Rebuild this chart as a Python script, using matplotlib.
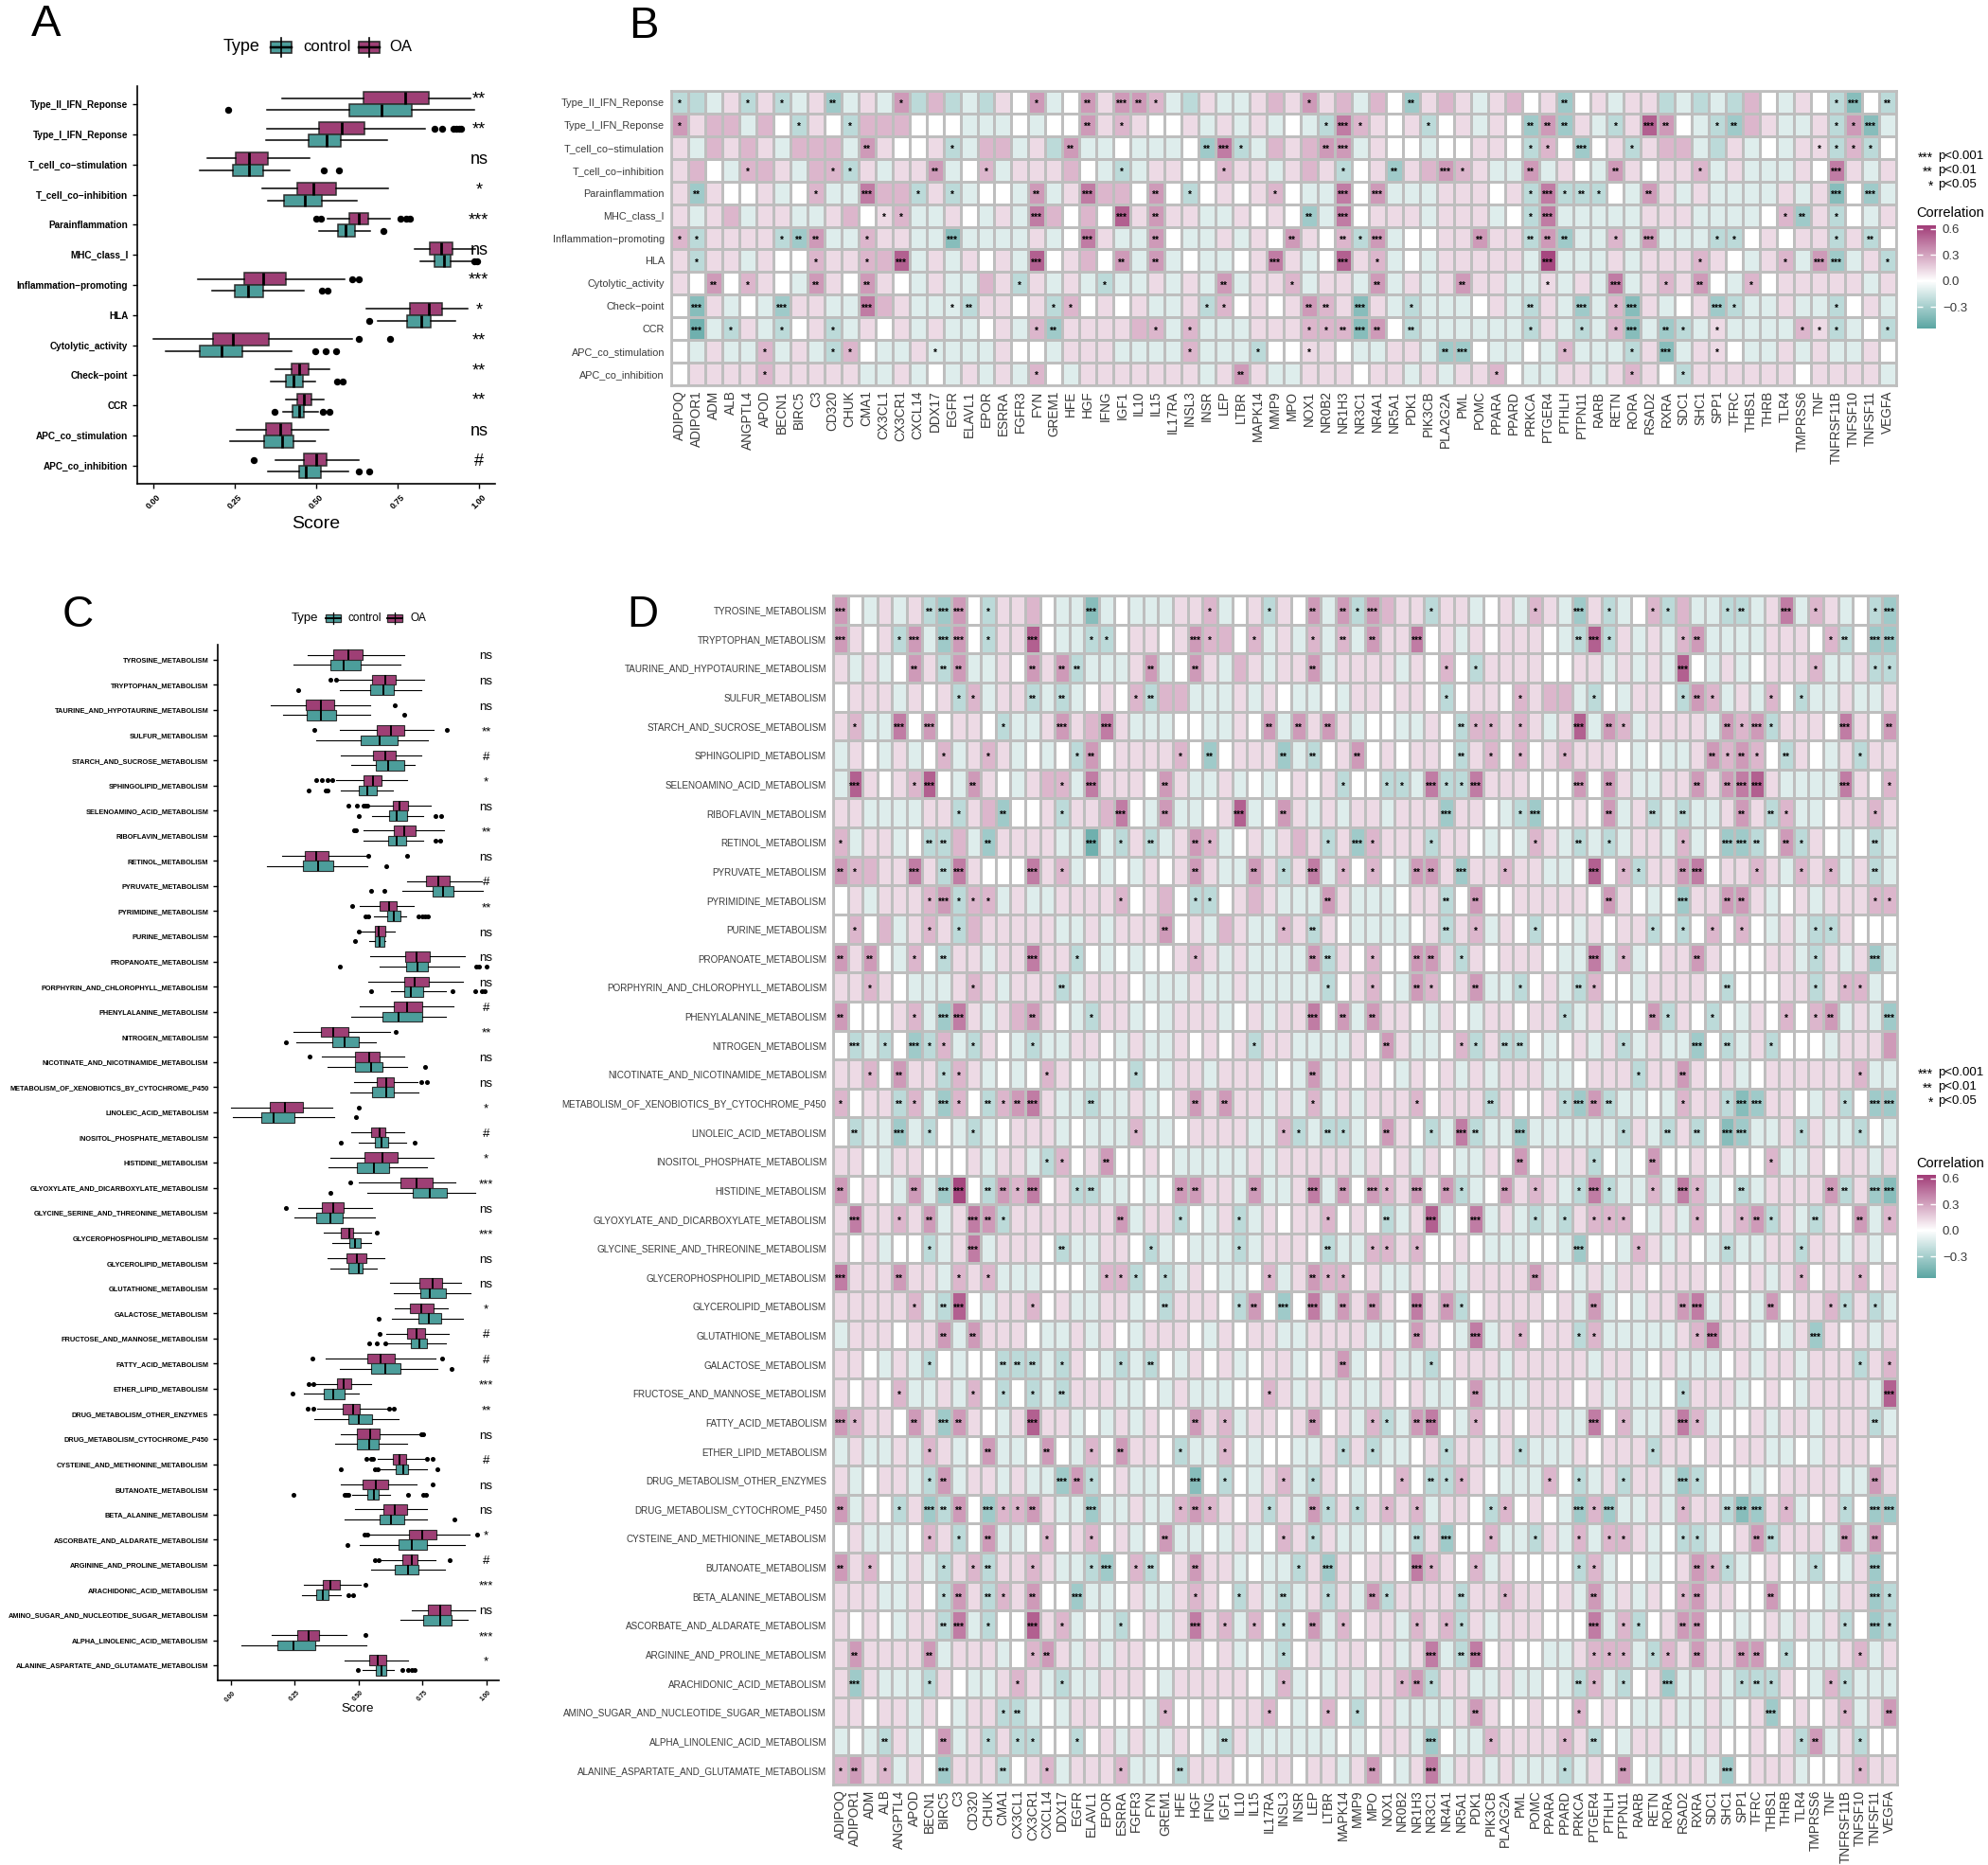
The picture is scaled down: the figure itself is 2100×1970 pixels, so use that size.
import numpy as np
import matplotlib
matplotlib.use("Agg")
import matplotlib.pyplot as plt
from matplotlib.colors import LinearSegmentedColormap, Normalize
from matplotlib.cm import ScalarMappable
from matplotlib.patches import Rectangle
from matplotlib.lines import Line2D

plt.rcParams['font.family'] = ['Liberation Sans', 'DejaVu Sans']

W, H = 2100, 1970
fig = plt.figure(figsize=(W / 100, H / 100), dpi=100)
fig.patch.set_facecolor('white')

# ------------------------------------------------------------------ data A
A_CATS = ["Type_II_IFN_Reponse", "Type_I_IFN_Reponse", "T_cell_co\u2212stimulation",
          "T_cell_co\u2212inhibition", "Parainflammation", "MHC_class_I",
          "Inflammation\u2212promoting", "HLA", "Cytolytic_activity", "Check\u2212point",
          "CCR", "APC_co_stimulation", "APC_co_inhibition"]
# (whisker low, q1, median, q3, whisker high)
A_OA = [(0.395, 0.645, 0.773, 0.845, 0.975), (0.35, 0.508, 0.578, 0.648, 0.835),
        (0.166, 0.254, 0.294, 0.353, 0.48), (0.333, 0.443, 0.492, 0.561, 0.72),
        (0.536, 0.602, 0.63, 0.66, 0.727), (0.802, 0.85, 0.885, 0.92, 0.99),
        (0.137, 0.28, 0.338, 0.406, 0.587), (0.655, 0.788, 0.845, 0.886, 0.965),
        (0.0, 0.182, 0.245, 0.355, 0.61), (0.375, 0.425, 0.448, 0.478, 0.541),
        (0.406, 0.443, 0.462, 0.485, 0.523), (0.257, 0.347, 0.388, 0.425, 0.538),
        (0.375, 0.462, 0.50, 0.533, 0.632)]
A_OA_OUT = [[], [0.865, 0.887, 0.922, 0.93, 0.94, 0.945], [], [], [0.50, 0.515, 0.758, 0.775, 0.787],
            [], [0.61, 0.63], [], [0.63, 0.727], [], [], [], [0.307]]
A_CTRL = [(0.35, 0.602, 0.70, 0.795, 0.985), (0.345, 0.478, 0.533, 0.575, 0.717),
          (0.142, 0.244, 0.293, 0.338, 0.418), (0.352, 0.402, 0.466, 0.518, 0.626),
          (0.508, 0.567, 0.59, 0.618, 0.667), (0.82, 0.863, 0.893, 0.913, 0.98),
          (0.18, 0.25, 0.29, 0.336, 0.462), (0.688, 0.78, 0.822, 0.853, 0.927),
          (0.037, 0.142, 0.21, 0.272, 0.423), (0.361, 0.406, 0.43, 0.46, 0.498),
          (0.398, 0.428, 0.448, 0.463, 0.505), (0.235, 0.341, 0.395, 0.43, 0.498),
          (0.353, 0.448, 0.467, 0.516, 0.598)]
A_CTRL_OUT = [[0.23], [], [0.523, 0.57], [], [0.708], [0.987, 0.995], [0.517, 0.535], [0.663],
              [0.498, 0.528, 0.56], [0.565, 0.582], [0.373, 0.52, 0.54], [], [0.63, 0.663]]
A_SIG = ["**", "**", "ns", "*", "***", "ns", "***", "*", "**", "**", "**", "ns", "#"]

# ------------------------------------------------------------------ data C
C_CATS = ["TYROSINE_METABOLISM", "TRYPTOPHAN_METABOLISM", "TAURINE_AND_HYPOTAURINE_METABOLISM",
          "SULFUR_METABOLISM", "STARCH_AND_SUCROSE_METABOLISM", "SPHINGOLIPID_METABOLISM",
          "SELENOAMINO_ACID_METABOLISM", "RIBOFLAVIN_METABOLISM", "RETINOL_METABOLISM",
          "PYRUVATE_METABOLISM", "PYRIMIDINE_METABOLISM", "PURINE_METABOLISM",
          "PROPANOATE_METABOLISM", "PORPHYRIN_AND_CHLOROPHYLL_METABOLISM",
          "PHENYLALANINE_METABOLISM", "NITROGEN_METABOLISM", "NICOTINATE_AND_NICOTINAMIDE_METABOLISM",
          "METABOLISM_OF_XENOBIOTICS_BY_CYTOCHROME_P450", "LINOLEIC_ACID_METABOLISM",
          "INOSITOL_PHOSPHATE_METABOLISM", "HISTIDINE_METABOLISM",
          "GLYOXYLATE_AND_DICARBOXYLATE_METABOLISM", "GLYCINE_SERINE_AND_THREONINE_METABOLISM",
          "GLYCEROPHOSPHOLIPID_METABOLISM", "GLYCEROLIPID_METABOLISM", "GLUTATHIONE_METABOLISM",
          "GALACTOSE_METABOLISM", "FRUCTOSE_AND_MANNOSE_METABOLISM", "FATTY_ACID_METABOLISM",
          "ETHER_LIPID_METABOLISM", "DRUG_METABOLISM_OTHER_ENZYMES", "DRUG_METABOLISM_CYTOCHROME_P450",
          "CYSTEINE_AND_METHIONINE_METABOLISM", "BUTANOATE_METABOLISM", "BETA_ALANINE_METABOLISM",
          "ASCORBATE_AND_ALDARATE_METABOLISM", "ARGININE_AND_PROLINE_METABOLISM",
          "ARACHIDONIC_ACID_METABOLISM", "AMINO_SUGAR_AND_NUCLEOTIDE_SUGAR_METABOLISM",
          "ALPHA_LINOLENIC_ACID_METABOLISM", "ALANINE_ASPARTATE_AND_GLUTAMATE_METABOLISM"]
C_OA = [(0.301, 0.403, 0.462, 0.515, 0.679), (0.42, 0.554, 0.607, 0.645, 0.758),
        (0.158, 0.295, 0.352, 0.407, 0.545), (0.426, 0.573, 0.626, 0.679, 0.793),
        (0.432, 0.556, 0.605, 0.645, 0.747), (0.413, 0.519, 0.556, 0.589, 0.69),
        (0.547, 0.634, 0.662, 0.696, 0.783), (0.519, 0.64, 0.681, 0.723, 0.837),
        (0.203, 0.29, 0.337, 0.385, 0.528), (0.691, 0.764, 0.812, 0.856, 0.985),
        (0.505, 0.585, 0.62, 0.649, 0.716), (0.51, 0.563, 0.579, 0.605, 0.643),
        (0.547, 0.684, 0.728, 0.781, 0.915), (0.538, 0.679, 0.719, 0.777, 0.908),
        (0.505, 0.639, 0.691, 0.749, 0.872), (0.247, 0.352, 0.401, 0.462, 0.624),
        (0.356, 0.486, 0.541, 0.582, 0.679), (0.483, 0.573, 0.608, 0.639, 0.732),
        (0.0, 0.152, 0.212, 0.282, 0.397), (0.471, 0.55, 0.583, 0.605, 0.681),
        (0.392, 0.524, 0.596, 0.652, 0.793), (0.503, 0.665, 0.728, 0.792, 0.881),
        (0.263, 0.358, 0.401, 0.441, 0.554), (0.365, 0.432, 0.464, 0.481, 0.551),
        (0.381, 0.454, 0.496, 0.531, 0.601), (0.624, 0.739, 0.792, 0.828, 0.902),
        (0.643, 0.70, 0.745, 0.793, 0.851), (0.608, 0.691, 0.726, 0.76, 0.853),
        (0.372, 0.534, 0.588, 0.643, 0.802), (0.337, 0.417, 0.441, 0.471, 0.551),
        (0.339, 0.439, 0.481, 0.506, 0.615), (0.43, 0.496, 0.545, 0.585, 0.739),
        (0.577, 0.636, 0.662, 0.688, 0.758), (0.43, 0.515, 0.57, 0.615, 0.726),
        (0.486, 0.598, 0.643, 0.69, 0.768), (0.541, 0.698, 0.751, 0.805, 0.936),
        (0.585, 0.672, 0.709, 0.732, 0.80), (0.286, 0.36, 0.392, 0.426, 0.509),
        (0.709, 0.774, 0.819, 0.86, 0.959), (0.162, 0.26, 0.305, 0.346, 0.452),
        (0.448, 0.543, 0.575, 0.608, 0.696)]
C_OA_OUT = [[], [0.39, 0.413], [0.643], [0.328, 0.847], [], [0.334, 0.358, 0.381, 0.398],
            [0.46, 0.494, 0.52, 0.528, 0.537], [0.483, 0.492], [0.538, 0.69], [], [0.477], [0.5],
            [], [], [], [0.647], [0.309], [0.745, 0.767], [0.503], [], [], [0.467], [0.217], [0.573],
            [], [], [], [0.585], [0.32, 0.828], [0.305, 0.324], [0.302, 0.324, 0.62, 0.64],
            [0.745, 0.754], [0.531, 0.55, 0.557, 0.77, 0.79], [0.792], [], [0.524, 0.534, 0.966],
            [0.563, 0.579, 0.857], [0.526], [], [0.526], []]
C_CTRL = [(0.247, 0.39, 0.441, 0.511, 0.665), (0.426, 0.545, 0.598, 0.64, 0.745),
          (0.207, 0.298, 0.352, 0.413, 0.545), (0.334, 0.509, 0.585, 0.653, 0.774),
          (0.473, 0.57, 0.617, 0.679, 0.722), (0.432, 0.503, 0.534, 0.573, 0.634),
          (0.554, 0.621, 0.649, 0.691, 0.755), (0.519, 0.617, 0.649, 0.688, 0.755),
          (0.142, 0.282, 0.343, 0.403, 0.534), (0.671, 0.79, 0.83, 0.872, 0.987),
          (0.56, 0.614, 0.64, 0.665, 0.688), (0.541, 0.564, 0.582, 0.601, 0.605),
          (0.582, 0.688, 0.732, 0.773, 0.894), (0.628, 0.679, 0.707, 0.754, 0.841),
          (0.471, 0.594, 0.656, 0.749, 0.841), (0.258, 0.398, 0.445, 0.5, 0.569),
          (0.381, 0.487, 0.55, 0.594, 0.691), (0.468, 0.554, 0.611, 0.639, 0.735),
          (0.008, 0.12, 0.168, 0.25, 0.407), (0.503, 0.566, 0.589, 0.617, 0.688),
          (0.384, 0.496, 0.56, 0.621, 0.767), (0.537, 0.713, 0.779, 0.847, 0.959),
          (0.251, 0.337, 0.39, 0.439, 0.564), (0.398, 0.464, 0.487, 0.509, 0.55),
          (0.39, 0.462, 0.5, 0.518, 0.573), (0.64, 0.742, 0.781, 0.841, 0.939),
          (0.63, 0.736, 0.777, 0.825, 0.908), (0.611, 0.704, 0.739, 0.767, 0.843),
          (0.429, 0.551, 0.607, 0.666, 0.809), (0.288, 0.365, 0.403, 0.445, 0.503),
          (0.327, 0.462, 0.503, 0.554, 0.656), (0.411, 0.494, 0.541, 0.579, 0.691),
          (0.582, 0.647, 0.675, 0.694, 0.77), (0.477, 0.537, 0.56, 0.579, 0.624),
          (0.448, 0.585, 0.626, 0.681, 0.77), (0.505, 0.656, 0.709, 0.768, 0.915),
          (0.55, 0.643, 0.694, 0.735, 0.838), (0.279, 0.334, 0.36, 0.384, 0.43),
          (0.666, 0.754, 0.819, 0.866, 0.927), (0.041, 0.184, 0.245, 0.33, 0.532),
          (0.515, 0.57, 0.592, 0.611, 0.64)]
C_CTRL_OUT = [[], [0.264], [0.679], [], [], [0.305, 0.372, 0.381], [0.503, 0.802, 0.824],
              [0.802, 0.821], [0.608], [0.55, 0.602], [0.526, 0.538, 0.736, 0.75, 0.76, 0.774],
              [0.487], [0.429, 0.962, 0.971, 1.0], [0.55, 0.869, 0.959, 0.985, 0.994], [], [0.218],
              [0.761], [], [0.49], [0.432, 0.719], [], [0.39], [], [], [], [], [0.579],
              [0.541, 0.573, 0.607], [0.866], [0.244], [], [], [0.43, 0.564, 0.575, 0.809],
              [0.247, 0.445, 0.454, 0.462, 0.696, 0.754, 0.764], [0.876], [0.458], [],
              [0.462, 0.48], [], [], [0.499, 0.671, 0.694, 0.709, 0.722]]
C_SIG = ["ns", "ns", "ns", "**", "#", "*", "ns", "**", "ns", "#", "**", "ns", "ns", "ns", "#",
         "**", "ns", "ns", "*", "#", "*", "***", "ns", "***", "ns", "ns", "*", "#", "#", "***",
         "**", "ns", "#", "ns", "ns", "*", "#", "***", "ns", "***", "*"]

# ------------------------------------------------------------------ heatmap data
GENES = ["ADIPOQ", "ADIPOR1", "ADM", "ALB", "ANGPTL4", "APOD", "BECN1", "BIRC5", "C3", "CD320",
         "CHUK", "CMA1", "CX3CL1", "CX3CR1", "CXCL14", "DDX17", "EGFR", "ELAVL1", "EPOR", "ESRRA",
         "FGFR3", "FYN", "GREM1", "HFE", "HGF", "IFNG", "IGF1", "IL10", "IL15", "IL17RA", "INSL3",
         "INSR", "LEP", "LTBR", "MAPK14", "MMP9", "MPO", "NOX1", "NR0B2", "NR1H3", "NR3C1",
         "NR4A1", "NR5A1", "PDK1", "PIK3CB", "PLA2G2A", "PML", "POMC", "PPARA", "PPARD", "PRKCA",
         "PTGER4", "PTHLH", "PTPN11", "RARB", "RETN", "RORA", "RSAD2", "RXRA", "SDC1", "SHC1",
         "SPP1", "TFRC", "THBS1", "THRB", "TLR4", "TMPRSS6", "TNF", "TNFRSF11B", "TNFSF10",
         "TNFSF11", "VEGFA"]

# correlation levels, one letter per cell
LEVELS = {'Z': -0.48, 'Y': -0.40, 'X': -0.32, 'W': -0.22, 'V': -0.11, 'o': 0.0,
          'a': 0.12, 'b': 0.24, 'c': 0.33, 'd': 0.43, 'e': 0.52, 'f': 0.60}

B_ROWS = ["Type_II_IFN_Reponse", "Type_I_IFN_Reponse", "T_cell_co\u2212stimulation",
          "T_cell_co\u2212inhibition", "Parainflammation", "MHC_class_I", "Inflammation\u2212promoting",
          "HLA", "Cytolytic_activity", "Check\u2212point", "CCR", "APC_co_stimulation",
          "APC_co_inhibition"]
B_VALS = [
    "WWVaWaWVaX VaVcWbWVWa ocVocaccbV WaVVabacab VboXabaVab oaXoaVaaWV WVWboVaoWY oW",
    "cabbVboWao WbbboooVVV oVoocabaoo aVaVaVoVWd baoaWoaVao XcXaVWaeco VWXbaVVaWc YV",
    "aVbabaVbbb VcaooaWVbb VaWcVVoVVV oXdWVbabcc VaooVooaao WboXoaWabb VWaVoVaaWb Wo",
    "aboVbbaVbb WaVaacVobV aaaboVWVaa oobaaVabaW oaXabcbaVV cVaoVcaoaa bVaVVVaoda Va",
    "aXaooaVobV VdbbWaWVoo VcVadbboco WoaoaboVVd ocVVVaaaoa WdWWWoVcaV aVVVVaVaYo XV",
    "aVabVaaVVa boabVVaoVa Vdboboeaca aVVaoaoXVd oaaaVaaaVo WdVVVVVaaa VVVVobXaWo Va",
    "bWaaaaWXcV VbaaVVYVVV VaVodaVVco VVaVaocaob WcVooaacaa WcXVVbVcVV VWWoaoaaWa Wo",
    "aWaaVaooba abbeVaVaoa VeoabocVcV oVVoadaVoe abVoVaaaaa VfVVVaVaaa baoVabVcXV aW",
    "aocobaoVca ocaoVaVVba WaVaVWVVaV aVcVaabVaa VcVaVacaaV VaVaVdVaba coVboaaaaa Va",
    "oYaVoVXaaV VdbaVVVWaa oaWboaoaVV aWboaoacba YaVWVVVoaV WaVXVbYaVo aXWVVaVVWo aV",
    "oZVWaVWoaW VaoaVaVVoa VbXaaaabbV bVVVaaabbb YcoWVVVVVV WaVWVbYVXW VaVVVVbaWV oW",
    "oVaVVbVaVW boVVaVVVVa ooVaaaVVVV bVVVWooaao VVaaVXXoVV oVbVVVWaYV aaoVVaVaVV ao",
    "oaaaabaaaa aVVaVoVaVa VboVaaaaaa aVacaVVaaa oaaVaVaabo VVaaVabaoW aaaaaaoaaa aV",
]
# significance marks: "column:number_of_stars"
B_STARS = [
    "1:1 5:1 7:1 10:2 14:1 22:1 25:2 27:3 28:2 29:1 38:1 44:2 53:2 69:1 70:3 72:2",
    "1:1 8:1 11:1 25:2 27:1 39:1 40:3 41:1 45:1 51:2 52:2 53:2 56:1 58:3 59:2 62:1 63:2 69:1 70:1 71:3",
    "12:2 17:1 24:2 32:2 33:3 34:1 39:2 40:3 51:1 52:1 54:3 57:1 68:1 69:1 70:1 71:1",
    "5:1 10:1 11:1 16:2 19:1 27:1 33:1 40:1 43:2 46:3 47:1 51:2 56:2 61:1 69:3",
    "2:2 9:1 12:3 15:1 17:1 22:2 25:3 29:2 31:1 36:1 40:3 42:3 51:1 52:3 53:1 54:2 55:1 58:2 69:3 71:3",
    "13:1 14:1 22:3 27:3 29:2 38:2 40:3 51:1 52:3 66:1 67:2 69:1",
    "1:1 2:1 7:1 8:2 9:2 12:1 17:3 25:3 29:2 37:2 40:2 41:1 42:3 48:2 51:2 52:2 53:2 56:1 58:3 62:1 63:1 69:1 71:2",
    "2:1 9:1 12:1 14:3 22:3 27:2 29:2 36:3 40:3 42:1 52:3 61:1 66:1 68:3 69:3 72:1",
    "3:2 5:1 9:2 12:2 21:1 26:1 33:2 37:1 42:2 47:2 52:1 56:3 59:1 61:2 64:1",
    "2:3 7:3 12:3 17:1 18:2 23:1 24:1 32:1 33:1 38:2 39:2 41:3 44:1 51:2 54:3 56:1 57:3 62:3 63:1 69:1",
    "2:3 4:1 7:1 10:1 22:1 23:2 29:1 31:1 38:1 39:1 40:2 41:3 42:2 44:2 51:1 54:1 56:1 57:3 59:2 60:1 62:1 67:1 68:1 69:1 72:1",
    "6:1 10:1 11:1 16:1 31:1 35:1 38:1 46:2 47:3 53:1 57:1 59:3 62:1",
    "6:1 22:1 34:2 49:1 57:1 60:1",
]

D_ROWS = C_CATS
D_VALS = [
    "coVaVaWXco WaaboVVYVo VVVaabVoaW aocVcWcbaa WaaVoaVbaV XaWVobWbVV WWVadVbaVo WX",
    "caoaWcVXco WaaeoVVWWo aaoacbbobV aVbVbVcaad oaVaoaaaoV WeWaVaVbcV VVVaaaobWo XX",
    "aVaVocaWcV VaocacWVVV acVocaVbaV aacVaaaaVa oboWaaaaoo aaVaVaVeoV aVoaaabVVa WW",
    "oaaaVaoaWb VaaWVWVoao bWbbVVVaVa oVVoVaaoaa oWoaaobabb VWoVaaoWcb VaVboWVVaV Va",
    "abVVdocoaa oWVVacabda VVVooVVaoc VcacaVooVV aoWbbabaVa eVcbVaaaaV cbcWaaaoda oc",
    "VaoVaVobVa baVoVoWcoa aaaboXoaaa XVWoacoaoa aoWaboboab aaaoVoVVac bcboWaoVaW aa",
    "VeaoabeoVc aoVabbVdaa aocaVVaVoV oaoaWooWWV dWWdaaaooo cocaVVaaca cdeaVVVVda ob",
    "aaVVVVaaWa bXooaWaabd oVcVVoaeVo caVaVaaVaa aXaaoVWXoo aocVaWVWVV acaWbVVoaa ba",
    "bVaaVoWWbV XaaaaVVZVW aWVacbVoaV abaWaXbaaa WaaoVoVbaV WVWVaaVbVo XXWocWaoVo WV",
    "cbbaadaWda ooodabVoVo VaoacaVVca WadVboboVc caXaabaaVV oeobWaacdo aabaVbabVa WV",
    "oaVaaabcWb bVaVVaaaab oaboWWoaba VVVcaVVVoa aWocooaaaa aocaoVoXaa ccaVoaVaaa bb",
    "obobVabaWb aaaaaVVaVa aacoaVbaVV baWaoVVVVo aWabVaoWoo VaoaaWoWob oboVaVWWao oo",
    "cacoVboWaa VaadaaWoVo VooabaVaVV VVcWaobooc caWaoaaaoV VdVbVoaaca oooaaVWaVa XV",
    "aabaoVVVab aVaaaWVaaa oVVVaVVaVV VVVWoaboVc boacVVWoaV WbooVaaaao WoooaaWabb Vo",
    "coooabVXda VabcaoVWaa VoVaaaVoaV aadocVcaao VaoVaaoaaW VaVoocWaoW oVaobobcVa VX",
    "oWVWoXWbVW aoVWVVaaoV aVVaoaoaWa aVVVVaocaV VobWaWWoVo aVaWVaVVXo WVaWoooVaa ac",
    "aabocaaWba VoVobaoVoo WoVaaVaaaV oVcVaoaoVa oaVaVaaaVV oaaaWaacao aVoaaaaaab VV",
    "boaaWbVXbo WbcdaVVWVV aVoacacaaV aVbVaVaaab oaaaWaooaW XcWVVoVbaa WYXaaoVaWo XX",
    "oWVVXVWoVW VoaaaVoVVV bVVoaaaaVV bWVWWVocao WVdWVVXVVV VVVWaVWaWo YXVVaWaVVW oV",
    "aaoVaaoooa VaaVWboaco oaoVVVVVaV aaaaaVaoaV aoVVaocoaa aWoVocooao aoobVVaoaa Va",
    "coaoVcVXfo WcbdoaWWVV oVoccaaVcV VadVcocbac ocWVocabaV WdWVVbVdbV oWVaaaacWa XY",
    "adaabacVad cWaaaaaaac VaaWoVaWVa oaaboaoWVa eVodVaVWVW abbboVaVbo abcWaVWaoc Vb",
    "aoaVooWVad VaaaoWVVaa oWVoVVVWVa aaoWVVbbab ooaoVVVooV XooVbaVaoV WVVaaWaaVa Vo",
    "daaacaaVba bVVVoooVbb WoWVaoVVob VacbboaVVa oaVaaaacao VaVaaoaaao aoaVaboaab oa",
    "aaaaabVWeo VaaboaVVaa VoWaaaoWco XodVcacaod acWoaaaaoa VcVoVaacdV aoVcoaabWa WV",
    "VaaaoaacVc aaaoVVaVao VaaaoVaoaa VVaaaaVVoc aoVdVaboaa WbVVVVVabd aaVoVaXaoa Va",
    "aaoVaVWoVo oWWWVWaoVW VWoVaoaVoa aVoacVoaVV WoaaaVaaaa aVaaVoaVVV oaVaaVaaaW ab",
    "aoaobVVaVb oWoWVWaaaV VoVaVVVoob aVaVaVVaoa VVocVVVaaa oaVaVVoWaa aVoaoVaaaa Ve",
    "cbaaocaXca oVaeaaVoVa VaoocabVaa oacoaVbWVc doVboaoaaV VdobVVadbV ooaVaaVaaa WV",
    "VaVVaVbaVo cVVocoVboc aaoWVVboVo oVVaWaWVVo aWaaVaWVVV aoaaaWaaoa oaaVVoVaaa oa",
    "aVoaaVWcVa aVaVVXcWoa VVooYoWoVa bVWaoVoobo WWbaoVVVbo WVaWaaVXWo ooVoaaaaVV ca",
    "cVaoWaXWco XbbcaVVXVV aVVbcbaoaW aVcWaWabab VaaoWboaoV XbXVVaVbaa WYXabVoaWo XX",
    "oaVVVobaWo cVVoboaboa VocVVoVaVo baWaVVoVoW aXoobVVWaV bVbbaVoWWV oacWaaaVcV co",
    "caboVaVWab WaabaVVWXo bWoacaaVoV VWaXaoaaod baobVaoooo WbVooVoacb WVoaoVWoVa Xo",
    "aaaVVaoWca WbacooXVVo aVVabaoWaV WVaWaVcWaa aaWaabaaoa VcVaVaobca aoocoooVaa XW",
    "aoaoVaaWdV WooeabVoVW oaVadabVbo WocVboaaVb abWaVaaaoo odVbWoacco oVoaVaVaWo XW",
    "acaaaacVaa aVobcaVaVa aoooaoaVoV WoaVaaoaVa dVWdoaooVV abbbVWbaca accoWoVVab Va",
    "aXaVVVWaoV VabaVWVVaa aoVaaaaaoV bVoVaVaabc WaaVVaVVoV WbVWoaXVVa VWWWaoVbWV VV",
    "aaoaaVaoVa aWWVoVaaoo oVbooaoaab oVoboWoaVV VVacaooaoo boaoVVaVVa VoaXoaoabV ac",
    "VoVWaVocVa WaWWooWoaV aVVaoVWaVV VVVVoVoaaV XoVVbaaaab aWoVaaVoVa ooaoaWcVaW oo",
    "bcabVaoXaa aWoabVaaab VVoWaaaooa aoaaVacoVa dVaaVaVVVW VaocoVaaaV XoaaaVooab aa",
]
D_STARS = [
    "1:3 7:2 8:3 9:3 11:1 18:3 26:1 30:1 33:2 35:2 36:1 37:3 41:1 48:1 51:3 53:1 56:1 57:1 61:1 62:2 65:3 67:1 71:1 72:3",
    "1:3 5:1 6:3 8:3 9:3 11:1 14:3 18:1 19:1 25:3 26:1 29:1 33:1 35:2 37:2 40:3 51:2 52:3 53:1 58:1 59:2 68:1 69:2 71:3 72:3",
    "6:2 8:2 9:2 14:2 16:2 17:2 22:2 25:2 33:2 42:1 44:1 58:3 67:1 71:1 72:1",
    "9:1 10:1 14:2 16:2 21:1 22:2 42:1 47:1 52:1 58:1 59:2 60:1 64:1 66:1",
    "2:1 5:3 7:3 12:1 16:3 19:3 30:2 32:2 34:2 43:2 44:1 45:1 47:1 51:3 53:2 54:1 61:2 62:1 63:3 64:1 69:3 72:2",
    "8:1 11:1 17:1 18:2 24:1 26:2 31:2 33:2 36:2 43:2 45:1 47:1 50:1 60:2 61:1 62:2 63:1 65:2 70:1",
    "2:3 6:1 7:3 10:2 16:1 18:3 23:2 35:1 38:1 39:1 41:3 42:1 43:1 44:3 51:3 53:2 59:2 61:2 62:3 63:3 69:3 72:1",
    "9:1 12:2 16:1 20:3 23:2 28:3 31:2 42:3 47:1 48:3 53:2 56:2 58:2 62:2 64:2 65:1 71:1",
    "1:1 7:2 8:2 11:2 18:3 20:1 22:2 25:2 26:1 34:1 36:3 37:1 41:1 48:1 51:2 53:1 58:1 61:3 62:3 63:2 65:2 66:1 71:2",
    "1:2 2:1 6:3 8:2 9:3 14:3 16:1 25:2 29:2 31:1 33:3 35:1 37:1 40:2 41:2 43:3 46:1 52:3 54:1 55:1 58:2 59:3 63:1 66:1 68:1 71:2",
    "7:1 8:3 9:1 10:1 11:1 20:1 25:1 26:1 34:2 42:2 44:2 53:2 58:3 61:2 62:2 71:1 72:1",
    "2:1 7:1 9:1 23:2 31:1 33:2 42:2 44:1 48:1 56:1 58:1 60:1 62:1 67:1 68:1",
    "1:2 3:2 6:1 8:2 14:3 17:1 25:1 33:2 34:2 37:1 40:2 41:2 43:1 52:3 54:1 59:2 67:1 71:3",
    "3:1 10:1 16:2 34:1 37:1 40:2 41:1 44:2 47:1 51:2 52:1 61:2 67:1 69:1 70:1",
    "1:2 6:1 8:3 9:3 14:2 18:1 33:3 35:2 37:2 50:1 56:2 57:1 60:1 65:1 67:1 68:2 72:3",
    "2:3 4:1 6:3 7:1 8:1 10:1 14:1 29:1 38:2 43:1 44:1 46:2 47:2 54:1 59:3 61:2 64:1",
    "3:1 5:2 8:1 9:1 15:1 21:1 33:2 55:1 58:2 70:1",
    "1:1 5:2 6:1 8:3 9:1 11:2 12:1 13:2 14:3 18:2 25:2 27:2 33:1 40:1 45:2 50:1 51:3 52:2 53:2 58:1 61:1 62:3 63:3 69:1 71:3 72:3",
    "2:2 5:3 7:1 10:1 21:1 31:1 32:1 34:2 35:1 38:2 41:1 43:3 44:2 47:3 54:1 57:2 59:2 61:3 62:3 66:1 70:1",
    "15:1 16:1 19:2 47:2 52:1 56:2 64:1",
    "1:2 6:2 8:3 9:3 11:2 12:2 13:1 14:3 17:1 18:2 24:2 25:2 29:2 33:3 35:2 37:3 38:1 40:3 42:2 43:1 46:2 48:1 51:1 52:3 53:1 56:1 58:3 59:1 62:2 68:2 69:2 71:3 72:3",
    "2:3 5:1 7:2 10:3 11:2 12:1 20:2 24:1 28:1 34:1 38:2 41:3 44:3 48:1 50:1 52:1 53:1 54:1 59:1 62:1 63:2 64:1 67:2 70:2 72:1",
    "7:1 10:3 16:2 22:1 28:1 34:2 37:1 38:1 40:1 51:3 55:1 61:2 66:1",
    "1:3 5:2 9:1 11:1 19:1 20:1 21:1 23:1 30:1 33:2 34:1 35:1 48:2 66:1 70:1",
    "6:1 8:2 9:3 14:1 23:2 28:1 29:2 31:3 33:3 35:2 37:2 40:3 42:2 43:1 52:2 58:2 59:3 64:2 68:1 69:1 71:1",
    "8:2 10:2 40:2 44:3 47:1 51:1 52:1 59:1 60:3 67:3",
    "7:1 12:2 13:2 14:2 16:1 20:1 22:2 35:2 41:1 70:1 72:1",
    "5:1 10:1 12:1 14:1 16:2 30:1 44:2 58:1 72:3",
    "1:3 2:1 6:2 8:3 9:2 14:3 25:2 27:1 33:2 37:1 38:1 40:2 41:3 44:1 52:3 54:1 58:3 59:1 71:2",
    "7:1 11:2 15:2 18:1 20:2 24:1 27:1 35:1 37:1 42:1 47:1 56:1",
    "7:1 8:2 16:3 17:2 18:1 25:3 27:1 31:1 33:1 39:1 41:2 42:1 43:1 49:1 51:1 54:1 58:3 59:1 71:2",
    "1:2 5:1 7:3 8:2 9:2 11:3 12:1 13:1 14:2 18:3 24:1 25:2 26:1 30:1 33:2 34:1 36:1 38:1 40:1 45:1 46:1 51:3 52:1 53:3 58:1 61:2 62:3 63:3 65:1 69:1 71:3 72:3",
    "7:1 9:1 11:2 15:1 18:1 23:2 31:1 33:1 40:2 42:3 45:1 48:1 51:1 53:1 54:1 58:1 59:1 63:2 64:2 69:2 71:2",
    "1:2 3:1 8:1 10:1 11:2 14:1 18:1 19:3 21:1 22:2 25:2 32:1 34:3 40:3 41:1 44:1 51:1 52:1 59:2 60:1 61:1 67:1 71:3",
    "8:1 9:2 11:2 12:1 14:2 17:3 25:1 28:1 31:2 34:1 37:2 38:1 43:2 46:1 52:2 58:1 59:2 64:2 71:3 72:1",
    "8:2 9:3 11:1 14:3 16:1 20:1 25:3 27:1 29:1 31:1 33:2 35:1 40:1 42:1 43:1 52:3 54:1 55:1 58:2 59:2 69:1 71:3 72:1",
    "2:2 7:2 14:1 15:2 31:1 41:3 43:2 44:3 52:1 53:1 54:1 56:1 57:1 59:2 62:2 63:2 65:1 70:1",
    "2:3 7:1 13:1 16:1 31:1 39:1 40:2 41:1 51:2 52:1 54:1 57:3 62:1 63:2 64:1 68:1 69:1",
    "12:1 13:2 23:1 30:1 34:1 36:1 44:2 51:1 64:3 69:1 72:2",
    "4:2 8:2 11:1 13:1 14:1 17:1 27:2 41:3 45:1 50:1 52:2 66:1 67:2 70:1",
    "1:1 2:2 4:1 8:3 12:2 15:1 20:1 24:2 37:2 41:3 50:1 54:2 61:3 70:1",
]

CB_TICKS = [0.6, 0.3, 0.0, -0.3]
SIG_LEGEND = [("***", "p<0.001"), ("**", "p<0.01"), ("*", "p<0.05")]

# ------------------------------------------------------------------ style
OA_COL = '#9E3F75'
CTRL_COL = '#4C9E9B'
EDGE = '#2E2E2E'
GRID = '#BEBEBE'
LABEL_GREY = '#383838'
VMIN, VMAX = -0.55, 0.64
P0 = -VMIN / (VMAX - VMIN)
CMAP = LinearSegmentedColormap.from_list('corr', [(0.0, '#5AA5A2'), (P0, '#FFFFFF'), (1.0, '#A13C77')])
NORM = Normalize(VMIN, VMAX)


def frac(x0, y0, x1, y1):
    return [x0 / W, 1 - y1 / H, (x1 - x0) / W, (y1 - y0) / H]


def box_panel(px, cats, oa, oa_out, ct, ct_out, sig, lab_fs, sig_fs, tick_fs, lw, med_lw, ms, sig_dy):
    ax = fig.add_axes(frac(*px))
    n = len(cats)
    pos = np.arange(n)

    def mk(st, fl):
        return [dict(whislo=s[0], q1=s[1], med=s[2], q3=s[3], whishi=s[4], fliers=np.array(f, float))
                for s, f in zip(st, fl)]
    common = dict(vert=False, widths=0.4, patch_artist=True, showcaps=False,
                  whiskerprops=dict(color='black', linewidth=lw),
                  medianprops=dict(color='black', linewidth=med_lw),
                  flierprops=dict(marker='o', markerfacecolor='black', markeredgecolor='black',
                                  markersize=ms, linestyle='none'))
    ax.bxp(mk(oa, oa_out), positions=pos - 0.2,
           boxprops=dict(facecolor=OA_COL, edgecolor=EDGE, linewidth=lw), **common)
    ax.bxp(mk(ct, ct_out), positions=pos + 0.2,
           boxprops=dict(facecolor=CTRL_COL, edgecolor=EDGE, linewidth=lw), **common)
    ax.set_xlim(-0.05, 1.05)
    ax.set_ylim(n - 0.4, -0.6)
    for s in ['top', 'right']:
        ax.spines[s].set_visible(False)
    for s in ['left', 'bottom']:
        ax.spines[s].set_linewidth(1.2)
    ax.set_yticks(pos)
    ax.set_yticklabels(cats, fontsize=lab_fs, fontweight='bold', color='black')
    ax.set_xticks([0, 0.25, 0.5, 0.75, 1.0])
    ax.set_xticklabels(["0.00", "0.25", "0.50", "0.75", "1.00"], rotation=45, ha='center',
                       va='top', fontsize=tick_fs, fontweight='bold')
    ax.tick_params(length=3.5, width=1.0, color='black')
    for i, s in enumerate(sig):
        ax.annotate(s, (1.0, i), xytext=(0, sig_dy), textcoords='offset points',
                    ha='center', va='center', fontsize=sig_fs, color='black')
    return ax


def parse_vals(rows):
    out = []
    for r in rows:
        s = r.replace(' ', '')
        s = (s + 'o' * 72)[:72]
        out.append([LEVELS.get(ch, 0.0) for ch in s])
    return np.array(out)


def heatmap(px, rows, cols, vals, stars, row_fs, col_fs, star_fs, star_dy):
    ax = fig.add_axes(frac(*px))
    Z = parse_vals(vals)
    nr, nc = Z.shape
    ax.pcolormesh(np.arange(nc + 1), np.arange(nr + 1), Z, cmap=CMAP, norm=NORM,
                  edgecolors=GRID, linewidth=2.0)
    ax.set_xlim(0, nc)
    ax.set_ylim(nr, 0)
    ax.set_xticks(np.arange(nc) + 0.5)
    ax.set_xticklabels(cols, rotation=90, fontsize=col_fs, color=LABEL_GREY)
    ax.set_yticks(np.arange(nr) + 0.5)
    ax.set_yticklabels(rows, fontsize=row_fs, color=LABEL_GREY)
    ax.tick_params(axis='both', length=0)
    ax.tick_params(axis='x', pad=4)
    ax.tick_params(axis='y', pad=5)
    for sp in ax.spines.values():
        sp.set_color(GRID)
        sp.set_linewidth(2.0)
    for i, s in enumerate(stars):
        for tok in s.split():
            c, k = tok.split(':')
            ax.annotate('*' * int(k), (int(c) - 0.5, i + 0.5), xytext=(0, star_dy),
                        textcoords='offset points', ha='center', va='center',
                        fontsize=star_fs, fontweight='bold', color='black')
    return ax


def colorbar(px):
    cax = fig.add_axes(frac(*px))
    sm = ScalarMappable(norm=NORM, cmap=CMAP)
    cb = fig.colorbar(sm, cax=cax, orientation='vertical')
    cb.outline.set_visible(False)
    cb.set_ticks(CB_TICKS)
    cb.set_ticklabels(["0.6", "0.3", "0.0", "\u22120.3"])
    cax.tick_params(axis='y', direction='in', length=4, width=1, color='white',
                    labelsize=9.5, labelcolor=LABEL_GREY, pad=5, left=True, right=True)
    return cax


# ------------------------------------------------------------------ panels
axA = box_panel((145, 91, 523, 511), A_CATS, A_OA, A_OA_OUT, A_CTRL, A_CTRL_OUT, A_SIG,
                lab_fs=7.2, sig_fs=13, tick_fs=6.5, lw=1.1, med_lw=2.0, ms=4.3, sig_dy=3.5)
axC = box_panel((230, 681, 527, 1775), C_CATS, C_OA, C_OA_OUT, C_CTRL, C_CTRL_OUT, C_SIG,
                lab_fs=5.3, sig_fs=9.5, tick_fs=4.8, lw=0.8, med_lw=1.4, ms=2.6, sig_dy=2.5)

axB = heatmap((709, 96, 2003, 407), B_ROWS, GENES, B_VALS, B_STARS,
              row_fs=7.8, col_fs=9.8, star_fs=7.2, star_dy=-1.6)
axD = heatmap((880, 629, 2004, 1885), D_ROWS, GENES, D_VALS, D_STARS,
              row_fs=7.1, col_fs=9.8, star_fs=7.2, star_dy=-1.6)

colorbar((2025, 238, 2045, 347))
colorbar((2025, 1241, 2045, 1350))

# ------------------------------------------------------------------ overlay (letters, legends)
ov = fig.add_axes([0, 0, 1, 1])
ov.set_xlim(0, W)
ov.set_ylim(H, 0)
ov.axis('off')
ov.patch.set_visible(False)
ov.set_zorder(20)

for letter, x, y, fs in [("A", 33, 38, 34), ("B", 664, 40, 34), ("C", 66, 662, 33), ("D", 662, 662, 33)]:
    ov.text(x, y, letter, fontsize=fs, ha='left', va='baseline', color='black')

ov.text(334, 553, "Score", fontsize=14, ha='center', va='center')
ov.text(378, 1805, "Score", fontsize=9.5, ha='center', va='center')


def type_legend(x_title, y, keys, fs_title, fs_text, kw, kh, wh, lw):
    ov.text(x_title, y, "Type", fontsize=fs_title, ha='left', va='center')
    for (kx, tx, col, lab) in keys:
        ov.add_line(Line2D([kx, kx], [y - wh, y + wh], color='black', lw=lw))
        ov.add_patch(Rectangle((kx - kw / 2, y - kh / 2), kw, kh, facecolor=col,
                               edgecolor=EDGE, lw=lw))
        ov.add_line(Line2D([kx - kw / 2, kx + kw / 2], [y, y], color='black', lw=lw * 1.5))
        ov.text(tx, y, lab, fontsize=fs_text, ha='left', va='center')


type_legend(236, 50, [(297, 320, CTRL_COL, "control"), (389.5, 411, OA_COL, "OA")],
            fs_title=13, fs_text=12, kw=22, kh=12.5, wh=10, lw=1.2)
type_legend(308, 653, [(352, 368, CTRL_COL, "control"), (417, 433, OA_COL, "OA")],
            fs_title=9.5, fs_text=8.5, kw=16, kh=8.5, wh=6, lw=0.9)


def sig_legend(y0, y_corr):
    for k, (st, txt) in enumerate(SIG_LEGEND):
        y = y0 + 15 * k
        ov.text(2042, y + 2, st, fontsize=10, ha='right', va='center')
        ov.text(2047, y, txt, fontsize=9.5, ha='left', va='center')
    ov.text(2024, y_corr, "Correlation", fontsize=10.5, ha='left', va='center')


sig_legend(165, 225)
sig_legend(1133, 1229)

fig.savefig("out.png", dpi=100, facecolor='white')
